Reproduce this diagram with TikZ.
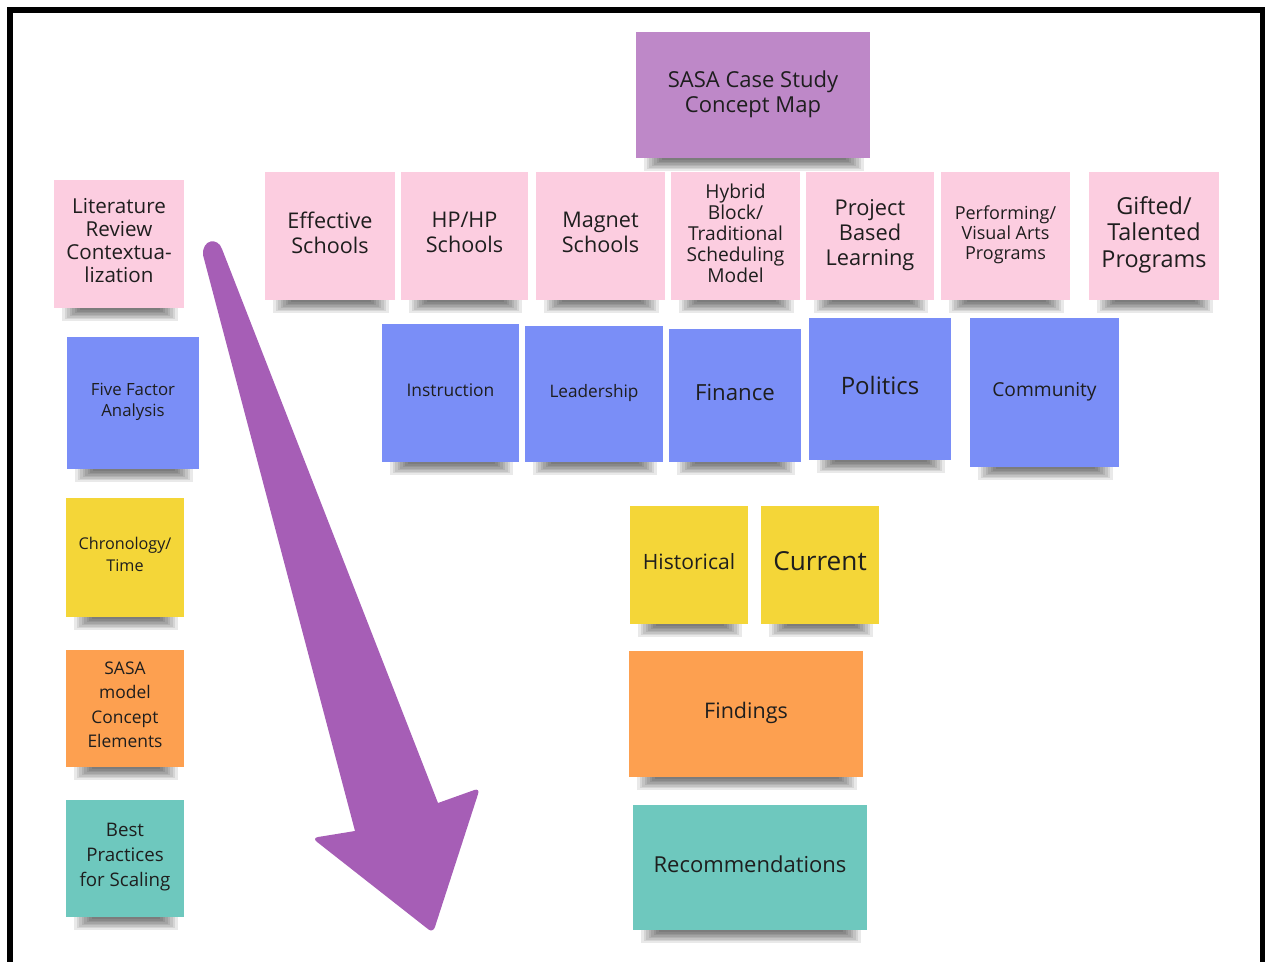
\documentclass[tikz,border=0pt]{standalone}
\usepackage{fontspec}
\setmainfont{Open Sans}
\usetikzlibrary{calc,backgrounds}

\definecolor{notepink}{HTML}{FCCDE0}
\definecolor{notepurple}{HTML}{BE88C8}
\definecolor{noteblue}{HTML}{7A8EF7}
\definecolor{noteyellow}{HTML}{F4D638}
\definecolor{noteorange}{HTML}{FDA050}
\definecolor{noteteal}{HTML}{6EC8BE}
\definecolor{arrowpurple}{HTML}{A65EB6}
\definecolor{notetext}{HTML}{1E1E1E}

\newcommand{\notesize}[2]{\fontsize{#1}{#2}\selectfont}

\tikzset{
  note/.style={text=notetext, align=center, inner sep=0pt,
    execute at begin node=\strut, execute at end node=\strut},
  wh/.style 2 args={minimum width=#1*0.5pt, minimum height=#2*0.5pt},
  titlenote/.style={note, fill=notepurple},
  pinknote/.style={note, fill=notepink},
  bluenote/.style={note, fill=noteblue},
  yellownote/.style={note, fill=noteyellow},
  orangenote/.style={note, fill=noteorange},
  tealnote/.style={note, fill=noteteal},
  noteshadow/.style={black, opacity=0.085},
}

\begin{document}
\begin{tikzpicture}[x=0.5pt, y=-0.5pt]
  \useasboundingbox (0,0) rectangle (1265,962);

  % frame
  \draw[line width=3pt] (10,970) -- (10,10) -- (1263,10) -- (1263,970);

  % title
  \node[titlenote, wh={234}{126}, font=\notesize{11}{12.5}] (title) at (753,95) {SASA Case Study\\Concept Map};

  % left column
  \node[pinknote, wh={130}{128}, font=\notesize{10.3}{11.5}] (litreview) at (119,244) {Literature\\Review\\Contextua-\\lization};
  \node[bluenote, wh={132}{132}, font=\notesize{8.4}{10.5}] (fivefactor) at (133,403) {Five Factor\\Analysis};
  \node[yellownote, wh={118}{119}, font=\notesize{8.1}{11}] (chronology) at (125,557.5) {Chronology/\\Time};
  \node[orangenote, wh={118}{117}, font=\notesize{8.7}{12.25}] (sasamodel) at (125,708.5) {SASA\\model\\Concept\\Elements};
  \node[tealnote, wh={118}{117}, font=\notesize{9.35}{12.5}] (bestpractice) at (125,858.5) {Best\\Practices\\for Scaling};

  % school models
  \node[pinknote, wh={130}{128}, font=\notesize{10.8}{12.5}] (effective) at (330,236) {Effective\\Schools};
  \node[pinknote, wh={127}{128}, font=\notesize{10.8}{12.5}] (hphp) at (464.5,236) {HP/HP\\Schools};
  \node[pinknote, wh={129}{128}, font=\notesize{10.8}{12.5}] (magnet) at (600.5,236) {Magnet\\Schools};
  \node[pinknote, wh={129}{128}, font=\notesize{9.6}{10.5}] (hybrid) at (735.5,236) {Hybrid\\Block/\\Traditional\\Scheduling\\Model};
  \node[pinknote, wh={128}{128}, font=\notesize{10.9}{12.5}] (pbl) at (870,236) {Project\\Based\\Learning};
  \node[pinknote, wh={129}{128}, font=\notesize{9}{10}] (performing) at (1005.5,236) {Performing/\\Visual Arts\\Programs};
  \node[pinknote, wh={130}{128}, font=\notesize{11.7}{13.2}] (gifted) at (1154,236) {Gifted/\\Talented\\Programs};

  % five factors
  \node[bluenote, wh={137}{138}, font=\notesize{8.7}{10}] (instruction) at (450.5,393) {Instruction};
  \node[bluenote, wh={138}{136}, font=\notesize{8.6}{10}] (leadership) at (594,394) {Leadership};
  \node[bluenote, wh={132}{133}, font=\notesize{11.1}{12}] (finance) at (735,395.5) {Finance};
  \node[bluenote, wh={142}{142}, font=\notesize{12}{13}] (politics) at (880,389) {Politics};
  \node[bluenote, wh={149}{149}, font=\notesize{9.6}{11}] (community) at (1044.5,392.5) {Community};

  % chronology
  \node[yellownote, wh={118}{118}, font=\notesize{10.55}{12}] (historical) at (689,565) {Historical};
  \node[yellownote, wh={118}{118}, font=\notesize{13.1}{14}] (current) at (820,565) {Current};

  % outcomes
  \node[orangenote, wh={234}{126}, font=\notesize{10.75}{12}] (findings) at (746,714) {Findings};
  \node[tealnote, wh={234}{125}, font=\notesize{11}{12}] (recommend) at (750,867.5) {Recommendations};

  % shadows
  \begin{scope}[on background layer]
    \foreach \n in {title, litreview, fivefactor, chronology, sasamodel, bestpractice,
                    effective, hphp, magnet, hybrid, pbl, performing, gifted,
                    instruction, leadership, finance, politics, community,
                    historical, current, findings, recommend}
      \foreach \k in {1,...,8}
        \fill[noteshadow] ($(\n.south west)+(6+2.5*\k,-4)$) rectangle ($(\n.south east)+(-4-2.5*\k,14-1.5*\k)$);
  \end{scope}

  % reading direction arrow
  \fill[arrowpurple] (203,255) -- (355,831) [rounded corners=3pt] -- (312,838) -- (433,933) -- (480,788) [sharp corners] -- (438,803) -- (222,249) .. controls (218,237) and (202,239) .. (203,255) -- cycle;
\end{tikzpicture}
\end{document}
